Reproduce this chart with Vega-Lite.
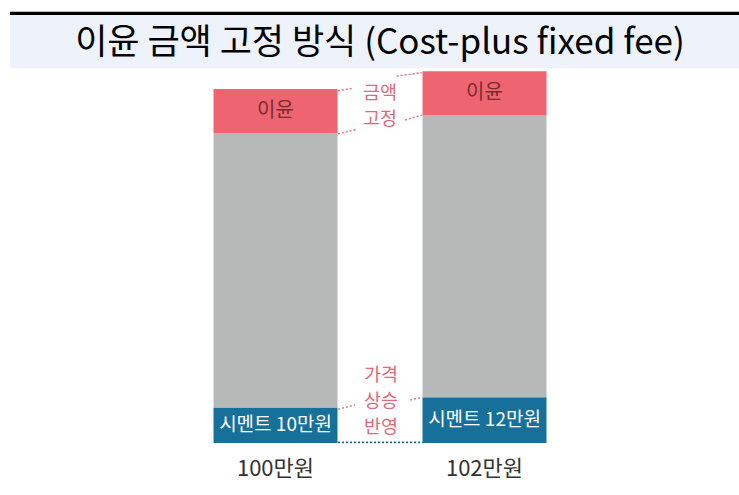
{
  "$schema": "https://vega.github.io/schema/vega-lite/v6.json",
  "width": 739,
  "height": 443,
  "autosize": {"type": "none"},
  "padding": {"left": 0, "top": 0, "right": 0, "bottom": 52},
  "background": "white",
  "config": {"view": {"stroke": null}, "font": "Noto Sans CJK KR"},
  "datasets": {
    "bars": [
      {"price": "100만원", "segment": "시멘트", "label": "시멘트 10만원", "value": 10, "order": 1},
      {"price": "100만원", "segment": "기타 원가", "label": "", "value": 77.6, "order": 2},
      {"price": "100만원", "segment": "이윤", "label": "이윤", "value": 12.4, "order": 3},
      {"price": "102만원", "segment": "시멘트", "label": "시멘트 12만원", "value": 12.9, "order": 1},
      {"price": "102만원", "segment": "기타 원가", "label": "", "value": 79.6, "order": 2},
      {"price": "102만원", "segment": "이윤", "label": "이윤", "value": 12.5, "order": 3}
    ],
    "notes": [
      {"text": "금액", "x": 0.5, "y": 98.96},
      {"text": "고정", "x": 0.5, "y": 91.44},
      {"text": "가격", "x": 0.505, "y": 19.2},
      {"text": "상승", "x": 0.505, "y": 11.9},
      {"text": "반영", "x": 0.505, "y": 4.6}
    ],
    "links": [
      {"x": 0.299, "y": 99.52, "x2": 0.371, "y2": 100.2},
      {"x": 0.58, "y": 103.67, "x2": 0.7, "y2": 104.6},
      {"x": 0.299, "y": 87.29, "x2": 0.389, "y2": 88.62},
      {"x": 0.62, "y": 91.24, "x2": 0.7, "y2": 92.66},
      {"x": 0.3, "y": 9.52, "x2": 0.38, "y2": 10.73},
      {"x": 0.644, "y": 12.15, "x2": 0.7, "y2": 12.91}
    ]
  },
  "resolve": {"scale": {"x": "independent"}},
  "layer": [
    {
      "data": {"name": "bars"},
      "transform": [
        {"stack": "value", "groupby": ["price"], "sort": [{"field": "order", "order": "ascending"}], "as": ["y0", "y1"]},
        {"calculate": "(datum.y0 + datum.y1) / 2", "as": "mid"}
      ],
      "layer": [
        {
          "mark": {"type": "bar"},
          "encoding": {
            "x": {
              "field": "price", "type": "nominal", "sort": ["100만원", "102만원"],
              "scale": {"paddingInner": 0.4067, "paddingOuter": 0.9713, "align": 0.5259},
              "axis": {"title": null, "domain": false, "ticks": false, "labelAngle": 0, "labelFontSize": 22, "labelColor": "#333333", "labelBaseline": "middle", "labelPadding": 25, "labelFont": "Noto Sans CJK KR"}
            },
            "y": {"field": "y0", "type": "quantitative", "scale": {"domain": [0, 125.14], "nice": false, "zero": false}, "axis": null},
            "y2": {"field": "y1"},
            "color": {
              "field": "segment", "type": "nominal",
              "scale": {"domain": ["시멘트", "기타 원가", "이윤"], "range": ["#17709a", "#b7b9b8", "#ee6471"]},
              "legend": null
            }
          }
        },
        {
          "transform": [{"filter": "datum.label !== ''"}],
          "mark": {"type": "text", "baseline": "middle", "align": "center"},
          "encoding": {
            "x": {
              "field": "price", "type": "nominal", "sort": ["100만원", "102만원"],
              "scale": {"paddingInner": 0.4067, "paddingOuter": 0.9713, "align": 0.5259}
            },
            "y": {"field": "mid", "type": "quantitative", "scale": {"domain": [0, 125.14], "nice": false, "zero": false}, "axis": null},
            "text": {"field": "label"},
            "color": {"condition": {"test": "datum.segment === '이윤'", "value": "#7b2a2e"}, "value": "white"},
            "size": {"condition": {"test": "datum.segment === '이윤'", "value": 20}, "value": 19}
          }
        }
      ]
    },
    {
      "layer": [
        {
          "data": {"values": [{}]},
          "mark": {"type": "rect", "color": "#edf2fb"},
          "encoding": {
            "x": {"datum": -1.2703, "type": "quantitative", "scale": {"domain": [-1.3182, 2.2177], "nice": false, "zero": false}, "axis": null},
            "x2": {"datum": 2.2177},
            "y": {"datum": 105.85, "type": "quantitative", "scale": {"domain": [0, 125.14], "nice": false, "zero": false}, "axis": null},
            "y2": {"datum": 120.9}
          }
        },
        {
          "data": {"values": [{}]},
          "mark": {"type": "rect", "color": "#000000"},
          "encoding": {
            "x": {"datum": -1.2703, "type": "quantitative"},
            "x2": {"datum": 2.2177},
            "y": {"datum": 120.9, "type": "quantitative"},
            "y2": {"datum": 121.84}
          }
        },
        {
          "data": {"values": [{"title": "이윤 금액 고정 방식 (Cost-plus fixed fee)"}]},
          "mark": {"type": "text", "fontSize": 35, "color": "#000000", "baseline": "middle", "align": "center"},
          "encoding": {
            "x": {"datum": 0.5, "type": "quantitative"},
            "y": {"datum": 113.0, "type": "quantitative"},
            "text": {"field": "title"}
          }
        },
        {
          "data": {"name": "links"},
          "mark": {"type": "rule", "color": "#e07b8b", "strokeWidth": 1.6, "strokeDash": [2, 2]},
          "encoding": {
            "x": {"field": "x", "type": "quantitative"},
            "x2": {"field": "x2"},
            "y": {"field": "y", "type": "quantitative"},
            "y2": {"field": "y2"}
          }
        },
        {
          "data": {"values": [{}]},
          "mark": {"type": "rule", "color": "#1f6e96", "strokeWidth": 1.8, "strokeDash": [2, 2]},
          "encoding": {
            "x": {"datum": 0.299, "type": "quantitative"},
            "x2": {"datum": 0.704},
            "y": {"datum": 0.2, "type": "quantitative"}
          }
        },
        {
          "data": {"name": "notes"},
          "mark": {"type": "text", "fontSize": 18.5, "color": "#e06a7d", "baseline": "middle", "align": "center"},
          "encoding": {
            "x": {"field": "x", "type": "quantitative"},
            "y": {"field": "y", "type": "quantitative"},
            "text": {"field": "text"}
          }
        }
      ]
    }
  ]
}
